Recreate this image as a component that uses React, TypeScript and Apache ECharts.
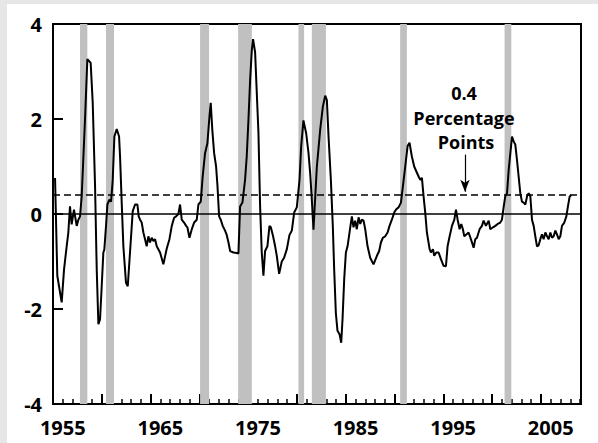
import React, { useEffect, useRef } from "react";
import * as echarts from "echarts";

const years = [
  1955.21, 1955.44, 1955.89, 1956.13, 1956.40, 1956.57, 1956.74, 1956.91, 1957.15, 1957.43,
  1957.60, 1957.77, 1957.94, 1958.28, 1958.52, 1958.86, 1959.07, 1959.31, 1959.48, 1959.65,
  1959.82, 1959.99, 1960.16, 1960.26, 1960.43, 1960.57, 1960.78, 1960.95, 1961.12, 1961.29,
  1961.53, 1961.77, 1961.87, 1962.04, 1962.21, 1962.48, 1962.66, 1962.89, 1963.17, 1963.41,
  1963.65, 1963.78, 1963.92, 1964.09, 1964.26, 1964.43, 1964.60, 1964.77, 1964.94, 1965.11,
  1965.29, 1965.46, 1965.63, 1965.97, 1966.31, 1966.65, 1966.93, 1967.17, 1967.41, 1967.61,
  1967.85, 1968.02, 1968.19, 1968.43, 1968.64, 1968.77, 1968.98, 1969.22, 1969.46, 1969.73,
  1969.90, 1970.14, 1970.34, 1970.58, 1970.82, 1971.03, 1971.16, 1971.33, 1971.51, 1971.71,
  1971.85, 1972.02, 1972.19, 1972.39, 1972.63, 1972.80, 1972.98, 1973.15, 1973.49, 1973.83,
  1974.00, 1974.17, 1974.41, 1974.68, 1974.85, 1975.03, 1975.20, 1975.37, 1975.50, 1975.71,
  1975.88, 1976.05, 1976.22, 1976.39, 1976.56, 1976.73, 1976.97, 1977.18, 1977.32, 1977.52,
  1977.76, 1977.93, 1978.17, 1978.44, 1978.68, 1978.96, 1979.23, 1979.47, 1979.71, 1979.98,
  1980.26, 1980.43, 1980.66, 1980.94, 1981.18, 1981.35, 1981.52, 1981.69, 1982.03, 1982.38,
  1982.65, 1982.89, 1983.06, 1983.23, 1983.47, 1983.67, 1983.81, 1983.98, 1984.15, 1984.36,
  1984.53, 1984.67, 1984.84, 1985.01, 1985.18, 1985.38, 1985.62, 1985.79, 1985.96, 1986.13,
  1986.31, 1986.48, 1986.65, 1986.82, 1986.99, 1987.23, 1987.50, 1987.84, 1988.19, 1988.42,
  1988.60, 1988.80, 1989.04, 1989.28, 1989.48, 1989.72, 1989.96, 1990.17, 1990.41, 1990.65,
  1990.85, 1991.09, 1991.33, 1991.53, 1991.77, 1992.01, 1992.22, 1992.46, 1992.63, 1992.80,
  1992.97, 1993.14, 1993.31, 1993.59, 1993.72, 1993.93, 1994.06, 1994.27, 1994.51, 1994.75,
  1995.02, 1995.26, 1995.43, 1995.64, 1995.88, 1996.12, 1996.29, 1996.46, 1996.66, 1996.83,
  1997.00, 1997.14, 1997.35, 1997.58, 1997.82, 1998.10, 1998.27, 1998.44, 1998.71, 1998.95,
  1999.12, 1999.36, 1999.64, 1999.81, 2000.08, 2000.32, 2000.56, 2000.83, 2001.00, 2001.17,
  2001.34, 2001.52, 2001.69, 2001.86, 2002.03, 2002.20, 2002.37, 2002.54, 2002.71, 2002.88,
  2003.05, 2003.22, 2003.40, 2003.57, 2003.74, 2003.91, 2004.08, 2004.25, 2004.42, 2004.59,
  2004.76, 2004.93, 2005.10, 2005.27, 2005.45, 2005.62, 2005.79, 2005.96, 2006.13, 2006.30,
  2006.47, 2006.64, 2006.81, 2006.98, 2007.15, 2007.39, 2007.60, 2007.77, 2007.94, 2008.11,
];

const values = [
  0.76, -1.3, -1.86, -1.17, -0.68, -0.39, 0.16, -0.22, 0.09, -0.25,
  -0.12, -0.05, 0.37, 1.99, 3.26, 3.18, 2.34, 0.58, -1.17, -2.32,
  -2.22, -1.52, -0.81, -0.75, -0.26, 0.2, 0.3, 0.26, 0.72, 1.63,
  1.79, 1.63, 1.21, 0.24, -0.68, -1.45, -1.52, -0.81, 0.06, 0.2,
  0.2, -0.05, -0.12, -0.18, -0.39, -0.53, -0.68, -0.47, -0.6, -0.5,
  -0.57, -0.53, -0.68, -0.81, -1.06, -0.73, -0.53, -0.25, -0.08, -0.05,
  0.0, 0.2, -0.12, -0.18, -0.25, -0.28, -0.5, -0.32, -0.18, -0.12,
  0.2, 0.26, 0.8, 1.28, 1.49, 2.05, 2.34, 1.75, 1.28, 1.0,
  0.6, -0.05, -0.12, -0.25, -0.35, -0.44, -0.6, -0.78, -0.81, -0.82,
  -0.83, 0.16, 0.24, 0.72, 1.21, 2.0, 2.83, 3.45, 3.68, 3.4,
  2.55, 1.71, 0.16, -0.81, -1.3, -0.78, -0.68, -0.25, -0.28, -0.44,
  -0.68, -0.88, -1.26, -1.0, -0.92, -0.74, -0.44, -0.35, 0.03, 0.14,
  0.72, 1.43, 1.97, 1.7, 1.28, 0.86, 0.3, -0.33, 0.98, 1.78,
  2.26, 2.49, 2.4, 1.64, 0.72, -0.25, -1.17, -2.08, -2.46, -2.53,
  -2.71, -2.2, -1.36, -0.81, -0.68, -0.39, -0.05, -0.28, -0.14, -0.32,
  -0.07, -0.21, -0.12, -0.14, -0.32, -0.68, -0.92, -1.06, -0.88, -0.78,
  -0.6, -0.5, -0.47, -0.39, -0.25, -0.12, 0.03, 0.1, 0.14, 0.24,
  0.58, 1.0, 1.43, 1.5, 1.21, 1.0, 0.9, 0.79, 0.72, 0.76,
  0.37, 0.03, -0.39, -0.74, -0.81, -0.74, -0.88, -0.81, -0.81, -0.95,
  -1.09, -1.1, -0.68, -0.47, -0.25, -0.12, 0.09, -0.12, -0.32, -0.21,
  -0.32, -0.47, -0.43, -0.39, -0.53, -0.71, -0.53, -0.5, -0.32, -0.25,
  -0.14, -0.25, -0.14, -0.32, -0.28, -0.25, -0.21, -0.18, -0.12, 0.14,
  0.37, 0.44, 0.93, 1.28, 1.63, 1.53, 1.46, 1.14, 0.79, 0.44,
  0.26, 0.24, 0.2, 0.37, 0.44, 0.37, -0.12, -0.25, -0.47, -0.68,
  -0.66, -0.53, -0.43, -0.53, -0.39, -0.47, -0.53, -0.39, -0.5, -0.47,
  -0.35, -0.43, -0.53, -0.47, -0.25, -0.18, -0.05, 0.17, 0.37, 0.4,
];

const recessionStarts = [1957.77, 1960.43, 1970.07, 1973.97, 1980.15, 1981.52, 1990.57, 2001.27];
const recessionEnds = [1958.52, 1961.25, 1970.99, 1975.37, 1980.73, 1982.96, 1991.26, 2001.96];

const xLabelYears = [1955, 1965, 1975, 1985, 1995, 2005];
const yTickValues = [-4, -2, 0, 2, 4];
const thresholdValue = 0.4;
const annotationLines = ["0.4", "Percentage", "Points"];
const arrowX = 1997.21;
const arrowTop = 1.25;
const arrowTip = 0.47;

const FONT = "'Open Sans', 'DejaVu Sans', sans-serif";

export default function App() {
  const ref = useRef<HTMLDivElement>(null);

  useEffect(() => {
    if (!ref.current) return;
    const chart = echarts.init(ref.current, null, { renderer: "svg" });
    const lineData = years.map((y, i) => [y, values[i]]);
    const bands = recessionStarts.map((s, i) => [
      { xAxis: s, itemStyle: { color: "#c0c0c0" } },
      { xAxis: recessionEnds[i] },
    ]);
    const xMin = 1955;
    const xMax = 2009.1;

    chart.setOption({
      animation: false,
      backgroundColor: "#ffffff",
      grid: {
        left: 53,
        right: 17,
        top: 24,
        bottom: 39,
        show: true,
        borderColor: "#000",
        borderWidth: 2,
        backgroundColor: "transparent",
      },
      graphic: [
        { type: "rect", left: 0, top: 0, shape: { x: 0, y: 0, width: 598, height: 4 }, style: { fill: "#e6e6e6" }, silent: true },
        { type: "rect", left: 0, top: 0, shape: { x: 0, y: 0, width: 7, height: 443 }, style: { fill: "#e6e6e6" }, silent: true },
        ...annotationLines.map((t, i) => ({
          type: "text",
          x: 464 + (i === 2 ? 2 : 0),
          y: [93, 118, 142][i],
          z: 100,
          style: {
            text: t,
            fill: "#000",
            font: `bold 18px ${FONT}`,
            textAlign: "center",
            textVerticalAlign: "middle",
          },
        })),
      ],
      xAxis: [
        {
          type: "value",
          min: xMin,
          max: xMax,
          interval: 1,
          position: "bottom",
          axisLine: { show: true, onZero: false, lineStyle: { color: "#000", width: 2 } },
          axisTick: { show: true, inside: true, length: 5, lineStyle: { color: "#000", width: 1.5 } },
          splitLine: { show: false },
          axisLabel: {
            show: true,
            margin: 13,
            color: "#000",
            fontSize: 20,
            fontWeight: "bold",
            fontFamily: FONT,
            showMinLabel: true,
            showMaxLabel: true,
            formatter: (v: number) => {
              const r = Math.round(v);
              if (Math.abs(v - r) > 1e-6) return "";
              return xLabelYears.includes(r - 1) ? String(r - 1) : "";
            },
          },
        },
        {
          type: "value",
          min: xMin,
          max: xMax,
          interval: 5,
          position: "bottom",
          axisLine: { show: false, onZero: false },
          axisTick: { show: true, inside: true, length: 10, lineStyle: { color: "#000", width: 2 } },
          splitLine: { show: false },
          axisLabel: { show: false },
        },
      ],
      yAxis: {
        type: "value",
        min: -4,
        max: 4,
        interval: 2,
        axisLine: { show: true, onZero: false, lineStyle: { color: "#000", width: 2 } },
        axisTick: { show: true, inside: true, length: 10, lineStyle: { color: "#000", width: 2 } },
        splitLine: { show: false },
        axisLabel: {
          margin: 11,
          color: "#000",
          fontSize: 20,
          fontWeight: "bold",
          fontFamily: FONT,
          formatter: (v: number) => (yTickValues.includes(v) ? String(v) : ""),
        },
      },
      series: [
        {
          type: "line",
          data: [],
          z: 1,
          silent: true,
          markArea: { silent: true, data: bands },
        },
        {
          type: "line",
          data: [],
          z: 2,
          silent: true,
          markLine: {
            silent: true,
            symbol: "none",
            label: { show: false },
            data: [
              { yAxis: 0, lineStyle: { color: "#000", width: 1.5, type: "solid" } },
              { yAxis: thresholdValue, lineStyle: { color: "#000", width: 1.5, type: [7, 4] } },
              [
                { coord: [arrowX, arrowTop], symbol: "none", lineStyle: { color: "#000", width: 1.2, type: "solid" } },
                { coord: [arrowX, arrowTip], symbol: "arrow", symbolSize: [7, 12] },
              ],
            ],
          },
        },
        {
          type: "line",
          data: lineData,
          z: 3,
          showSymbol: false,
          symbol: "none",
          silent: true,
          lineStyle: { color: "#000", width: 2 },
        },
      ],
    });
    return () => chart.dispose();
  }, []);

  return (
    <div
      ref={ref}
      style={{ position: "absolute", left: 0, top: 0, width: 598, height: 443, background: "#fff" }}
    />
  );
}
